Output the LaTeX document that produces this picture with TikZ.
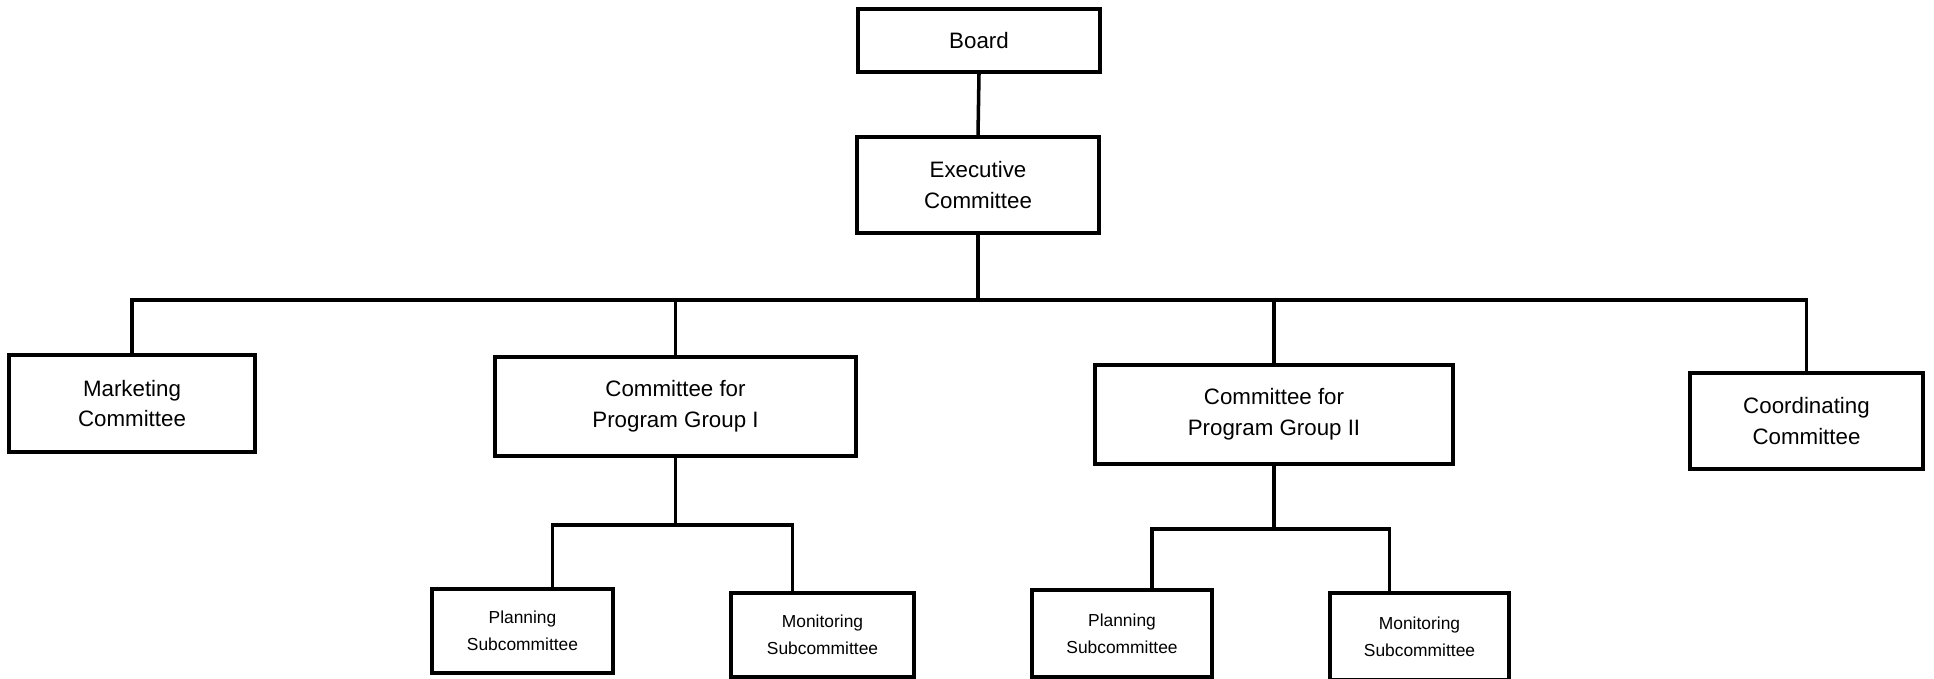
\documentclass[tikz,border=0pt]{standalone}
\usepackage{fontspec}
\setmainfont{Liberation Sans}
\usepackage{tikz}
\usetikzlibrary{calc}

\begin{document}
\begin{tikzpicture}[
    box/.style={draw, line width=2pt, align=center, font=\fontsize{12.7}{17.5}\selectfont},
    subbox/.style={draw, line width=2pt, align=center, font=\fontsize{9.9}{15.5}\selectfont},
    line/.style={line width=2pt}
]
\useasboundingbox (0,0) rectangle (38.68,-13.58);

% Board and Executive
\node[box, minimum width=4.84cm, minimum height=1.26cm] (board) at (19.58,-0.81) {Board};
\node[box, minimum width=4.84cm, minimum height=1.92cm] (exec) at (19.56,-3.70) {Executive\\Committee};

% Committees
\node[box, minimum width=4.92cm, minimum height=1.94cm] (mkt) at (2.64,-8.07) {Marketing\\Committee};
\node[box, minimum width=7.22cm, minimum height=1.98cm] (cpg1) at (13.51,-8.13) {Committee for\\Program Group I};
\node[box, minimum width=7.16cm, minimum height=1.98cm] (cpg2) at (25.48,-8.29) {Committee for\\Program Group II};
\node[box, minimum width=4.66cm, minimum height=1.92cm] (coord) at (36.13,-8.42) {Coordinating\\Committee};

% Subcommittees
\node[subbox, minimum width=3.62cm, minimum height=1.68cm] (plan1) at (10.45,-12.62) {Planning\\Subcommittee};
\node[subbox, minimum width=3.66cm, minimum height=1.68cm] (mon1) at (16.45,-12.70) {Monitoring\\Subcommittee};
\node[subbox, minimum width=3.60cm, minimum height=1.74cm] (plan2) at (22.44,-12.67) {Planning\\Subcommittee};
\node[subbox, minimum width=3.58cm, minimum height=1.74cm] (mon2) at (28.39,-12.73) {Monitoring\\Subcommittee};

% Branch points
\coordinate (bus) at ($(exec.south)+(0,-1.30)$);
\coordinate (sub1) at ($(cpg1.south)+(0,-1.34)$);
\coordinate (sub2) at ($(cpg2.south)+(0,-1.26)$);

% Lines
\draw[line] (board.south) -- (exec.north);
\draw[line] (exec.south) -- (bus);
\draw[line] (mkt.north) |- (bus) -| (coord.north);
\draw[line] (cpg1.north) -- (cpg1.north |- bus);
\draw[line] (cpg2.north) -- (cpg2.north |- bus);

\draw[line] (cpg1.south) -- (sub1);
\draw[line] ([xshift=0.6cm]plan1.north) |- (sub1) -| ([xshift=-0.6cm]mon1.north);
\draw[line] (cpg2.south) -- (sub2);
\draw[line] ([xshift=0.6cm]plan2.north) |- (sub2) -| ([xshift=-0.6cm]mon2.north);
\end{tikzpicture}
\end{document}
